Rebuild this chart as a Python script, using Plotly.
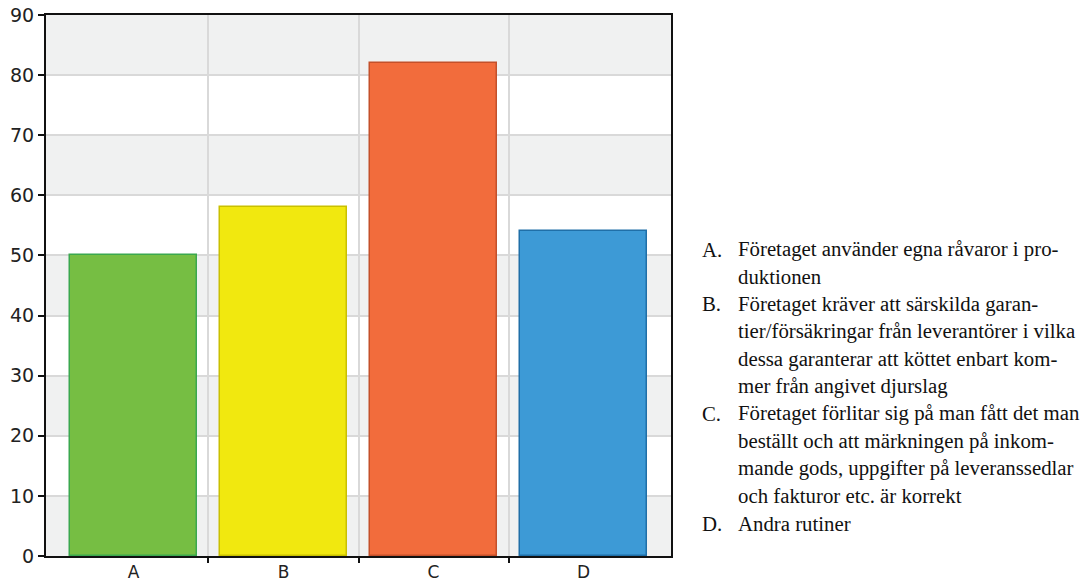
import plotly.graph_objects as go

categories = ["A", "B", "C", "D"]
values = [50, 58, 82, 54]
bar_colors = ["#76be43", "#f1e80f", "#f26c3c", "#3d9ad6"]
bar_edges = ["#3aa84e", "#c9c000", "#c4502a", "#1f6fa8"]
y_ticks = [0, 10, 20, 30, 40, 50, 60, 70, 80, 90]

legend_items = [
    ("A.", ["Företaget använder egna råvaror i pro-", "duktionen"]),
    ("B.", ["Företaget kräver att särskilda garan-",
            "tier/försäkringar från leverantörer i vilka",
            "dessa garanterar att köttet enbart kom-",
            "mer från angivet djurslag"]),
    ("C.", ["Företaget förlitar sig på man fått det man",
            "beställt och att märkningen på inkom-",
            "mande gods, uppgifter på leveranssedlar",
            "och fakturor etc. är korrekt"]),
    ("D.", ["Andra rutiner"]),
]

W, H = 1091, 584
L, R, T, B = 46, 420, 15, 28
plot_h = H - T - B
plot_w = W - L - R

xpos = list(range(len(categories)))

fig = go.Figure()
fig.add_trace(go.Bar(
    x=xpos, y=values, width=0.847,
    marker=dict(color=bar_colors, line=dict(color=bar_edges, width=1.5)),
    hoverinfo="skip", showlegend=False,
))
fig.add_trace(go.Scatter(x=xpos, y=[0]*len(xpos), xaxis="x2", mode="markers",
                         marker=dict(opacity=0), showlegend=False, hoverinfo="skip"))

shapes = []
for lo in y_ticks[:-1]:
    if (lo // 10) % 2 == 0:
        shapes.append(dict(type="rect", xref="paper", yref="y", x0=0, x1=1,
                           y0=lo, y1=lo + 10, fillcolor="#f0f1f1",
                           line=dict(width=0), layer="below"))

xr = [-0.583, 3.583]
font_ax = dict(family="DejaVu Sans", size=19, color="#222222")
font_x = dict(family="DejaVu Sans", size=17, color="#222222")
font_leg = dict(family="Liberation Serif", size=20.8, color="#111111")

annotations = []
baseline0 = 256
step = 27.4
i = 0
for letter, lines in legend_items:
    for j, line in enumerate(lines):
        by = baseline0 + step * i
        cy = by - 7
        py = (H - B - cy) / plot_h
        if j == 0:
            annotations.append(dict(x=(700 - L) / plot_w, y=py, xref="paper", yref="paper",
                                    text=letter, showarrow=False, xanchor="left", yanchor="middle",
                                    font=font_leg))
        annotations.append(dict(x=(736 - L) / plot_w, y=py, xref="paper", yref="paper",
                                text=line, showarrow=False, xanchor="left", yanchor="middle",
                                font=font_leg))
        i += 1

fig.update_layout(
    width=W, height=H,
    margin=dict(l=L, r=R, t=T, b=B, pad=0, autoexpand=False),
    paper_bgcolor="white", plot_bgcolor="white",
    shapes=shapes, annotations=annotations,
    bargap=0,
    xaxis=dict(range=xr, tickvals=[0.5, 1.5, 2.5], showticklabels=False,
               ticks="outside", ticklen=5, tickwidth=2, tickcolor="#111111",
               showgrid=True, gridcolor="#d9d9d9", gridwidth=2,
               showline=True, linecolor="#111111", linewidth=2, mirror=True,
               zeroline=False, fixedrange=True, automargin=False),
    xaxis2=dict(range=xr, overlaying="x", side="bottom", tickvals=xpos, ticktext=categories,
                ticks="outside", ticklen=1, tickcolor="rgba(0,0,0,0)", showgrid=False,
                showline=False, zeroline=False,
                tickfont=font_x, fixedrange=True, automargin=False),
    yaxis=dict(range=[0, 90], tickvals=y_ticks, ticks="outside", ticklen=6, tickwidth=2,
               tickcolor="#111111", showgrid=True, gridcolor="#d9d9d9", gridwidth=2,
               showline=True, linecolor="#111111", linewidth=2, mirror=True,
               zeroline=False, tickfont=font_ax, fixedrange=True, automargin=False),
)

fig.write_html("out.html", config={"displayModeBar": False},
               post_script="document.body.style.margin='0';document.body.style.overflow='hidden';")
